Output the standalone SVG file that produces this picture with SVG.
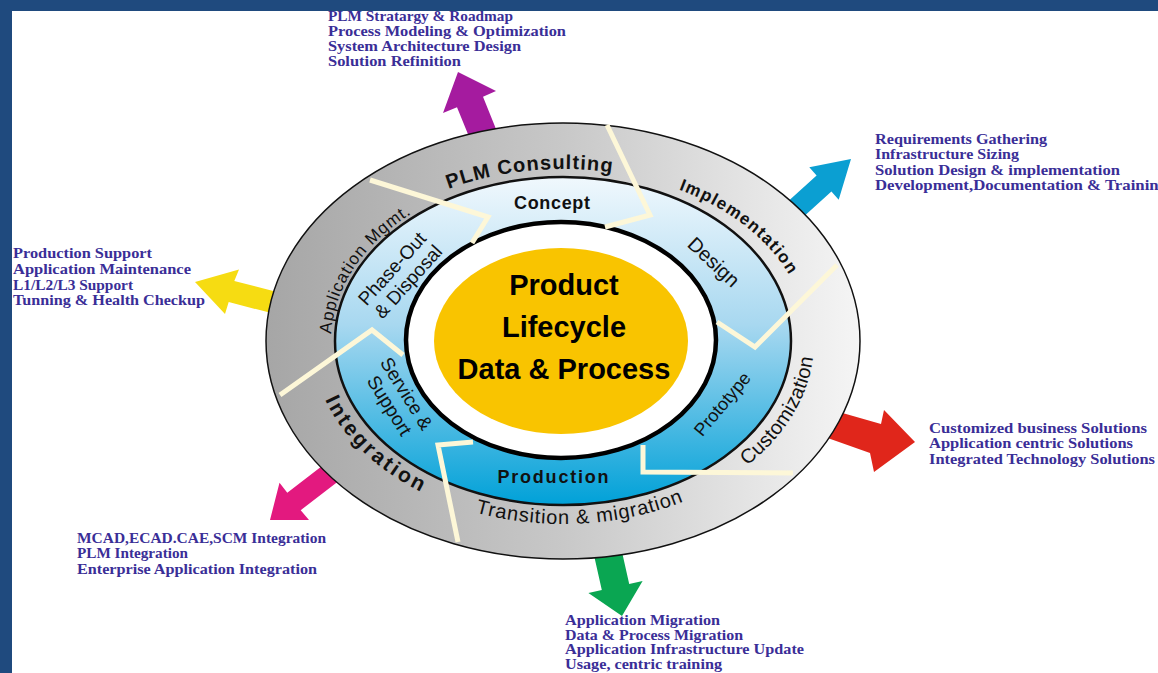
<svg xmlns="http://www.w3.org/2000/svg" width="1158" height="673" viewBox="0 0 1158 673">
<defs>
<style>
.blk{font-family:"Liberation Serif","Times New Roman",serif;font-weight:bold;font-size:14.5px;fill:#3a2e97}
.sm{font-size:14px}
.lbl{font-family:"Liberation Sans",Arial,sans-serif;fill:#111}
.b{font-weight:bold}
.div{fill:none;stroke:#fdf7d8;stroke-width:5;stroke-linejoin:miter}
.hub{font-family:"Liberation Sans",Arial,sans-serif;font-weight:bold;font-size:29px;fill:#000;text-anchor:middle}
</style>
<linearGradient id="gGrey" x1="0" y1="0" x2="1" y2="0">
<stop offset="0" stop-color="#a6a6a6"/>
<stop offset="0.5" stop-color="#c8c8c8"/>
<stop offset="1" stop-color="#f5f5f5"/>
</linearGradient>
<linearGradient id="gBlue" x1="0" y1="0" x2="0" y2="1">
<stop offset="0" stop-color="#f0f8fd"/>
<stop offset="0.45" stop-color="#a8d8f0"/>
<stop offset="1" stop-color="#00a1d8"/>
</linearGradient>
<path id="cwA" d="M318,341 A245,172 0 1,1 808,341 A245,172 0 1,1 318,341"/>
<path id="cwB" d="M331,341 A232,168 0 1,1 795,341 A232,168 0 1,1 331,341"/>
<path id="ccw" d="M563,158 A251,183 0 1,0 563,524 A251,183 0 1,0 563,158"/>
</defs>

<rect x="0" y="0" width="1158" height="673" fill="#ffffff"/>
<rect x="0" y="0" width="1158" height="11" fill="#1f4a7e"/>
<rect x="0" y="0" width="12" height="673" fill="#1f4a7e"/>

<g id="connectors">
<polygon fill="#a51b9f" points="458,72 496,91 483,96.8 498,134 472,144 457,107.2 443,113"/>
<polygon fill="#0b9fd2" points="851,159 838.7,199.8 831.4,191.6 794.4,225.1 779.6,208.9 816.6,175.4 809.3,167.2"/>
<polygon fill="#f6dc12" points="195,282 239,269.5 234.3,280.9 282.8,293.4 277.2,314.6 228.7,302.1 225,314"/>
<polygon fill="#e0261b" points="915,442 884,410 881,424 832,410 822,436 870,453 874,472"/>
<polygon fill="#e3197f" points="270,520 279.5,482.8 287.3,492.8 330.8,459.3 344.2,476.7 300.7,510.2 309,520"/>
<polygon fill="#0aa652" points="622,616 588.4,593.1 601.8,590.1 590.8,541.1 618.2,534.9 629.2,583.9 642.6,580.9"/>
</g>

<g id="outer-ring">
<ellipse cx="563" cy="341" rx="297" ry="218" fill="url(#gGrey)" stroke="#111" stroke-width="1.5"/>
</g>

<g id="lifecycle-ring">
<ellipse cx="563" cy="341" rx="228" ry="164" fill="url(#gBlue)" stroke="#111" stroke-width="2.5"/>
</g>

<g id="hub">
<ellipse cx="561" cy="340" rx="155" ry="118" fill="#ffffff" stroke="#000" stroke-width="4.5"/>
<ellipse cx="561" cy="341" rx="127" ry="93" fill="#f9c400"/>
<text class="hub" x="564" y="295">Product</text>
<text class="hub" x="564" y="337">Lifecycle</text>
<text class="hub" x="564" y="379">Data &amp; Process</text>
</g>

<g id="dividers">
<polyline class="div" points="370,180 488,217 472,243"/>
<polyline class="div" points="607,125 650,215 605,227"/>
<polyline class="div" points="837,265 755,347 717,322"/>
<polyline class="div" points="643,445 643,472 793,473"/>
<polyline class="div" points="473,442 438,445 458,542"/>
<polyline class="div" points="280,395 372,330 403,355"/>
</g>

<g id="label-plm-consulting">
<text class="lbl b" font-size="20" text-anchor="middle"><textPath href="#cwA" startOffset="296" textLength="166">PLM Consulting</textPath></text>
</g>
<g id="label-implementation">
<text class="lbl b" font-size="17" text-anchor="middle"><textPath href="#cwA" startOffset="519" textLength="142">Implementation</textPath></text>
</g>
<g id="label-application-mgmt">
<text class="lbl" font-size="17" text-anchor="middle"><textPath href="#cwB" startOffset="82" textLength="150">Application Mgmt.</textPath></text>
</g>
<g id="label-integration">
<text class="lbl b" font-size="21" text-anchor="middle"><textPath href="#ccw" startOffset="471" textLength="135">Integration</textPath></text>
</g>
<g id="label-transition">
<text class="lbl" font-size="20" text-anchor="middle"><textPath href="#ccw" startOffset="703" textLength="212">Transition &amp; migration</textPath></text>
</g>
<g id="label-customization">
<text class="lbl" font-size="20" text-anchor="middle"><textPath href="#ccw" startOffset="947" textLength="130">Customization</textPath></text>
</g>

<g id="stage-concept">
<text class="lbl b" font-size="18" x="552" y="209" text-anchor="middle" textLength="76">Concept</text>
</g>
<g id="stage-design">
<text class="lbl" font-size="20" text-anchor="middle" transform="translate(709,267) rotate(43)">Design</text>
</g>
<g id="stage-prototype">
<text class="lbl" font-size="18" text-anchor="middle" transform="translate(727,408) rotate(-50)">Prototype</text>
</g>
<g id="stage-production">
<text class="lbl b" font-size="18" x="553" y="483" text-anchor="middle" textLength="111">Production</text>
</g>
<g id="stage-service">
<text class="lbl" font-size="19" text-anchor="middle" transform="translate(401,397) rotate(58)">Service &amp;</text>
<text class="lbl" font-size="19" text-anchor="middle" transform="translate(384,409) rotate(58)">Support</text>
</g>
<g id="stage-phaseout">
<text class="lbl" font-size="19" text-anchor="middle" transform="translate(397,273) rotate(-48)">Phase-Out</text>
<text class="lbl" font-size="19" text-anchor="middle" transform="translate(413,286) rotate(-48)">&amp; Disposal</text>
</g>

<g id="svc-consulting">
<text class="blk" x="328" y="21" textLength="185" lengthAdjust="spacingAndGlyphs">PLM Stratargy &amp; Roadmap</text>
<text class="blk" x="328" y="36" textLength="238" lengthAdjust="spacingAndGlyphs">Process Modeling &amp; Optimization</text>
<text class="blk" x="328" y="51" textLength="193" lengthAdjust="spacingAndGlyphs">System Architecture Design</text>
<text class="blk" x="328" y="66" textLength="133" lengthAdjust="spacingAndGlyphs">Solution Refinition</text>
</g>
<g id="svc-implementation">
<text class="blk" x="875" y="144" textLength="172" lengthAdjust="spacingAndGlyphs">Requirements Gathering</text>
<text class="blk" x="875" y="159" textLength="144" lengthAdjust="spacingAndGlyphs">Infrastructure Sizing</text>
<text class="blk" x="875" y="175" textLength="245" lengthAdjust="spacingAndGlyphs">Solution Design &amp; implementation</text>
<text class="blk" x="875" y="190" textLength="292" lengthAdjust="spacingAndGlyphs">Development,Documentation &amp; Training</text>
</g>
<g id="svc-application-mgmt">
<text class="blk" x="13" y="258" textLength="139" lengthAdjust="spacingAndGlyphs">Production Support</text>
<text class="blk" x="13" y="274" textLength="178" lengthAdjust="spacingAndGlyphs">Application Maintenance</text>
<text class="blk" x="13" y="290" textLength="120" lengthAdjust="spacingAndGlyphs">L1/L2/L3 Support</text>
<text class="blk" x="13" y="305" textLength="192" lengthAdjust="spacingAndGlyphs">Tunning &amp; Health Checkup</text>
</g>
<g id="svc-customization">
<text class="blk" x="929" y="433" textLength="218" lengthAdjust="spacingAndGlyphs">Customized business Solutions</text>
<text class="blk" x="929" y="448" textLength="204" lengthAdjust="spacingAndGlyphs">Application centric Solutions</text>
<text class="blk" x="929" y="464" textLength="226" lengthAdjust="spacingAndGlyphs">Integrated Technology Solutions</text>
</g>
<g id="svc-integration">
<text class="blk" x="77" y="543" textLength="249" lengthAdjust="spacingAndGlyphs">MCAD,ECAD.CAE,SCM Integration</text>
<text class="blk" x="77" y="558" textLength="111" lengthAdjust="spacingAndGlyphs">PLM Integration</text>
<text class="blk" x="77" y="574" textLength="240" lengthAdjust="spacingAndGlyphs">Enterprise Application Integration</text>
</g>
<g id="svc-transition">
<text class="blk sm" x="565" y="625" textLength="155" lengthAdjust="spacingAndGlyphs">Application Migration</text>
<text class="blk sm" x="565" y="639.5" textLength="178" lengthAdjust="spacingAndGlyphs">Data &amp; Process Migration</text>
<text class="blk sm" x="565" y="654" textLength="239" lengthAdjust="spacingAndGlyphs">Application Infrastructure Update</text>
<text class="blk sm" x="565" y="668.5" textLength="157" lengthAdjust="spacingAndGlyphs">Usage, centric training</text>
</g>
</svg>
